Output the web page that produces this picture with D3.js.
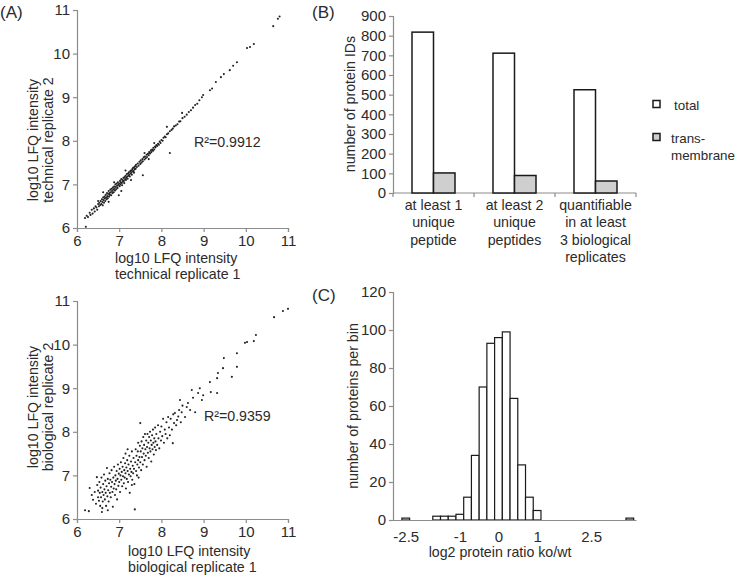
<!DOCTYPE html>
<html>
<head>
<meta charset="utf-8">
<script src="https://cdn.jsdelivr.net/npm/d3@7"></script>
<style>
  body { margin: 0; background: #fff; }
  svg { font-family: "Liberation Sans", Arial, sans-serif; }
  text { fill: #2b2b2b; }
</style>
</head>
<body>
<svg id="fig" width="740" height="577"></svg>
<script>
// panel A top: technical replicates (log10 LFQ intensity)
const techPoints = [
  [6.19,6.23],[6.21,6.03],[6.23,6.28],[6.26,6.25],[6.3,6.35],[6.32,6.3],[6.35,6.42],[6.37,6.33],[6.4,6.45],[6.42,6.38],
  [6.44,6.5],[6.46,6.47],[6.48,6.42],[6.5,6.55],[6.5,6.62],[6.52,6.5],[6.53,6.58],[6.55,6.53],[6.56,6.62],[6.58,6.55],
  [6.59,6.66],[6.6,6.6],[6.61,6.52],[6.62,6.7],[6.63,6.64],[6.64,6.58],[6.65,6.72],[6.66,6.68],[6.67,6.62],[6.68,6.76],
  [6.69,6.7],[6.7,6.66],[6.71,6.8],[6.72,6.73],[6.73,6.68],[6.74,6.78],[6.75,6.85],[6.76,6.72],[6.77,6.8],[6.78,6.76],
  [6.79,6.88],[6.8,6.82],[6.81,6.75],[6.82,6.9],[6.83,6.85],[6.84,6.8],[6.85,6.93],[6.86,6.88],[6.87,6.82],[6.88,6.95],
  [6.89,6.9],[6.9,6.86],[6.91,7.0],[6.92,6.94],[6.93,6.89],[6.94,7.02],[6.95,6.97],[6.96,6.92],[6.97,7.05],[6.98,6.99],
  [6.99,6.75],[6.62,6.82],[6.75,6.6],[6.88,7.05],[7.0,7.02],[7.01,6.96],[7.02,7.08],[7.03,7.0],[7.04,7.05],[7.05,7.12],
  [7.06,7.03],[7.07,6.98],[7.08,7.1],[7.09,7.06],[7.1,7.15],[7.11,7.08],[7.12,7.03],[7.13,7.17],[7.14,7.12],[7.15,7.2],
  [7.16,7.1],[7.17,7.15],[7.18,7.24],[7.19,7.18],[7.2,7.13],[7.21,7.25],[7.22,7.2],[7.23,7.28],[7.24,7.22],[7.25,7.18],
  [7.26,7.3],[7.27,7.25],[7.28,7.32],[7.29,7.27],[7.3,7.22],[7.31,7.35],[7.32,7.3],[7.33,7.38],[7.34,7.31],[7.35,7.27],
  [7.36,7.4],[7.37,7.35],[7.38,7.42],[7.39,7.36],[7.4,7.45],[7.42,7.4],[7.44,7.48],[7.46,7.43],[7.48,7.52],[7.05,6.85],
  [7.15,7.32],[7.28,7.1],[7.56,7.21],[7.5,7.47],[7.51,7.55],[7.53,7.5],[7.55,7.58],[7.56,7.53],[7.58,7.62],[7.6,7.57],
  [7.61,7.64],[7.63,7.6],[7.65,7.68],[7.66,7.63],[7.68,7.7],[7.7,7.67],[7.71,7.74],[7.73,7.71],[7.75,7.78],[7.76,7.74],
  [7.78,7.8],[7.8,7.77],[7.81,7.84],[7.83,7.8],[7.85,7.87],[7.86,7.85],[7.88,7.9],[7.9,7.88],[7.92,7.93],[7.94,7.91],
  [7.96,7.98],[7.98,7.95],[7.6,7.72],[7.7,7.58],[7.83,7.95],[8.0,8.02],[8.03,8.0],[8.05,8.07],[8.08,8.1],[8.1,8.08],
  [8.13,8.32],[8.13,8.15],[8.16,8.17],[8.2,7.72],[8.2,8.22],[8.24,8.25],[8.27,8.28],[8.3,8.33],[8.34,8.35],[8.38,8.38],
  [8.42,8.44],[8.45,8.45],[8.49,8.64],[8.5,8.52],[8.55,8.55],[8.6,8.6],[8.65,8.66],[8.7,8.7],[8.75,8.76],[8.8,8.82],
  [8.85,8.85],[8.9,8.93],[8.96,9.0],[8.99,9.05],[9.15,9.16],[9.2,9.2],[9.29,9.35],[9.41,9.46],[9.48,9.53],[9.62,9.62],
  [9.7,9.72],[9.79,9.8],[10.03,10.13],[10.1,10.15],[10.19,10.22],[10.65,10.63],[10.76,10.8],[10.8,10.85]
];

// panel A bottom: biological replicates
const bioPoints = [
  [6.19,6.2],[6.28,6.18],[6.3,6.71],[6.35,6.55],[6.38,6.44],[6.42,6.62],[6.45,6.35],[6.47,6.96],[6.48,6.78],[6.5,6.5],
  [6.5,6.65],[6.52,6.42],[6.53,6.85],[6.54,6.6],[6.55,6.3],[6.56,6.72],[6.57,6.5],[6.58,6.95],[6.59,6.16],[6.6,6.62],
  [6.61,6.4],[6.62,6.8],[6.63,6.55],[6.64,7.02],[6.65,6.68],[6.66,6.45],[6.67,6.88],[6.68,6.6],[6.69,6.3],[6.7,6.75],
  [6.71,7.17],[6.72,6.52],[6.73,6.2],[6.73,6.92],[6.74,6.66],[6.75,6.4],[6.76,6.82],[6.77,7.05],[6.78,6.6],[6.79,6.9],
  [6.8,6.5],[6.81,6.74],[6.82,7.12],[6.83,6.85],[6.84,6.62],[6.85,6.28],[6.86,6.95],[6.87,6.7],[6.88,7.2],[6.89,6.8],
  [6.9,6.55],[6.91,7.0],[6.92,6.88],[6.93,6.68],[6.94,7.1],[6.95,6.45],[6.96,6.92],[6.97,7.25],[6.98,6.76],[6.99,7.04],
  [6.6,6.25],[7.0,6.85],[7.01,7.15],[7.02,6.62],[7.03,7.0],[7.04,7.3],[7.05,6.9],[7.06,7.08],[7.07,6.75],[7.08,7.2],
  [7.09,6.98],[7.1,7.4],[7.11,6.82],[7.12,7.12],[7.13,6.95],[7.14,7.28],[7.15,7.05],[7.16,6.7],[7.17,7.18],[7.18,6.92],
  [7.19,7.35],[7.2,7.1],[7.21,6.85],[7.22,7.25],[7.23,7.02],[7.24,7.45],[7.25,6.6],[7.26,7.15],[7.27,6.98],[7.28,7.32],
  [7.29,7.08],[7.3,7.55],[7.31,6.9],[7.32,7.22],[7.33,7.05],[7.34,7.4],[7.35,7.15],[7.37,6.22],[7.36,6.8],[7.38,7.3],
  [7.39,7.6],[7.4,7.1],[7.41,7.45],[7.42,7.0],[7.43,7.25],[7.44,7.55],[7.45,7.35],[7.46,6.95],[7.47,7.18],[7.48,7.42],
  [7.49,7.68],[7.5,8.2],[7.15,7.5],[7.3,6.78],[7.45,7.75],[7.2,7.6],[7.5,7.3],[7.51,7.55],[7.52,7.12],[7.53,7.78],
  [7.54,7.42],[7.55,7.62],[7.56,7.25],[7.57,7.88],[7.58,7.5],[7.59,7.7],[7.6,7.35],[7.61,7.95],[7.62,7.6],[7.63,7.45],
  [7.64,7.8],[7.65,7.2],[7.66,7.65],[7.67,7.95],[7.68,7.52],[7.69,7.75],[7.7,7.4],[7.71,7.88],[7.72,7.62],[7.73,8.0],
  [7.74,7.55],[7.75,7.8],[7.76,7.32],[7.77,7.7],[7.78,7.92],[7.79,7.6],[7.8,8.05],[7.81,7.75],[7.82,7.48],[7.83,7.85],
  [7.84,7.65],[7.85,8.1],[7.86,7.78],[7.87,7.58],[7.88,7.95],[7.9,7.7],[7.92,8.15],[7.93,7.85],[7.95,7.62],[7.97,8.0],
  [7.99,7.8],[8.0,8.12],[8.02,7.9],[8.04,8.3],[8.06,7.75],[8.08,8.05],[8.1,7.95],[8.12,8.22],[8.14,7.85],[8.16,8.34],
  [8.18,8.1],[8.2,7.92],[8.22,8.3],[8.25,8.05],[8.27,7.74],[8.28,8.4],[8.3,8.2],[8.32,8.43],[8.35,8.15],[8.37,8.27],
  [8.4,8.35],[8.44,8.73],[8.42,8.5],[8.46,8.22],[8.48,8.45],[8.5,8.6],[8.56,8.34],[8.6,8.57],[8.63,8.66],[8.68,8.5],
  [8.72,8.96],[8.75,8.78],[8.8,8.45],[8.87,8.89],[8.91,9.0],[8.96,8.73],[8.99,8.84],[9.15,9.14],[9.17,8.91],[9.32,9.23],
  [9.32,8.89],[9.34,9.35],[9.46,9.46],[9.48,9.69],[9.67,9.26],[9.79,9.49],[9.79,9.8],[9.98,10.04],[10.03,10.06],[10.19,10.08],
  [10.24,10.22],[10.67,10.63],[10.88,10.77],[11.0,10.82]
];
const scatterTicks = [6, 7, 8, 9, 10, 11];

// panel B: protein IDs per filter
const filterCategories = [
  ['at least 1', 'unique', 'peptide'],
  ['at least 2', 'unique', 'peptides'],
  ['quantifiable', 'in at least', '3 biological', 'replicates']
];
const seriesNames = ['total', 'trans-membrane'];
const legendLines = [['total'], ['trans-', 'membrane']];
const totalIDs = [818, 711, 525];
const transmembraneIDs = [102, 89, 61];
const idTicks = [0, 100, 200, 300, 400, 500, 600, 700, 800, 900];

// panel C: histogram of log2 ko/wt ratios (bin centre, count)
const binCenters = [-2.4, -1.6, -1.4, -1.2, -1.0, -0.8, -0.6, -0.4, -0.2, 0, 0.2, 0.4, 0.6, 0.8, 1.0, 3.4];
const binCounts  = [1, 2, 2, 2, 3, 12, 34, 70, 93, 96, 99, 64, 29, 12, 5, 1];
const ratioTickValues = [-2.4, -1, 0, 1, 2.4];
const ratioTickLabels = ['-2.5', '-1', '0', '1', '2.5'];
const countTicks = [0, 20, 40, 60, 80, 100, 120];

const svg = d3.select('#fig');
const axisColor = '#8c8c8c';
const tickFont = 15;
const labelFont = 14.2;

function styleAxis(g) {
    g.select('.domain').attr('stroke', axisColor).attr('stroke-width', 1.2);
    g.selectAll('.tick line').attr('stroke', axisColor).attr('stroke-width', 1.2);
    g.selectAll('.tick text').attr('font-size', tickFont).attr('fill', '#2b2b2b');
}

function addText(x, y, str, size, anchor, rotate) {
    const t = svg.append('text')
        .attr('x', x)
        .attr('y', y)
        .attr('dy', '0.35em')
        .attr('font-size', size)
        .attr('text-anchor', anchor || 'start')
        .text(str);
    if (rotate) t.attr('transform', `rotate(-90,${x},${y})`);
    return t;
}

function drawScatter(points, top, bottom, yTitle, xTitle, yTitleMid, xTitleX, xTitleY, r2, r2x, r2y) {
    const x = d3.scaleLinear().domain([6, 11]).range([77, 288]);
    const y = d3.scaleLinear().domain([6, 11]).range([bottom, top]);

    svg.append('g')
        .attr('transform', `translate(0,${bottom})`)
        .call(d3.axisBottom(x).tickValues(scatterTicks).tickFormat(d3.format('d')).tickSize(4).tickPadding(3))
        .call(styleAxis);
    svg.append('g')
        .attr('transform', 'translate(77,0)')
        .call(d3.axisLeft(y).tickValues(scatterTicks).tickFormat(d3.format('d')).tickSize(4).tickPadding(3))
        .call(styleAxis);

    svg.append('g').selectAll('circle')
        .data(points)
        .enter().append('circle')
        .attr('cx', d => x(d[0]))
        .attr('cy', d => y(d[1]))
        .attr('r', 1.05)
        .attr('fill', '#222');

    addText(33, yTitleMid, yTitle[0], labelFont, 'middle', true);
    addText(48, yTitleMid, yTitle[1], labelFont, 'middle', true);
    addText(xTitleX, xTitleY, xTitle[0], labelFont, 'start');
    addText(xTitleX, xTitleY + 16, xTitle[1], labelFont, 'start');
    addText(r2x, r2y, r2, labelFont, 'start');
}

function drawBars() {
    const x0 = d3.scaleBand().domain(d3.range(filterCategories.length)).range([393, 636]);
    const x1 = d3.scaleBand().domain(seriesNames).range([19, 62]);
    const y = d3.scaleLinear().domain([0, 900]).range([193, 16]);

    svg.append('g')
        .attr('transform', 'translate(393,0)')
        .call(d3.axisLeft(y).tickValues(idTicks).tickSize(4).tickPadding(3))
        .call(styleAxis);

    const xg = svg.append('g').attr('transform', 'translate(0,193)');
    xg.append('line')
        .attr('x1', 393).attr('x2', 636)
        .attr('stroke', axisColor).attr('stroke-width', 1.2);
    xg.selectAll('.sep')
        .data(d3.range(filterCategories.length + 1))
        .enter().append('line')
        .attr('x1', i => i < filterCategories.length ? x0(i) : x0.range()[1])
        .attr('x2', i => i < filterCategories.length ? x0(i) : x0.range()[1])
        .attr('y1', 0).attr('y2', 4)
        .attr('stroke', axisColor).attr('stroke-width', 1.2);

    const series = [totalIDs, transmembraneIDs];
    const fills = ['#ffffff', '#cfcfcf'];
    filterCategories.forEach((cat, i) => {
        seriesNames.forEach((s, j) => {
            svg.append('rect')
                .attr('x', x0(i) + x1(s))
                .attr('y', y(series[j][i]))
                .attr('width', x1.bandwidth())
                .attr('height', y(0) - y(series[j][i]))
                .attr('fill', fills[j])
                .attr('stroke', '#1a1a1a')
                .attr('stroke-width', 1.5);
        });
        cat.forEach((line, k) => {
            addText(x0(i) + x0.bandwidth() / 2, 205 + k * 17.5, line, labelFont, 'middle');
        });
    });

    addText(350, 104, 'number of protein IDs', labelFont, 'middle', true);

    // legend
    legendLines.forEach((lbl, j) => {
        const ly = 104 + j * 33;
        svg.append('rect')
            .attr('x', 653).attr('y', ly - 3.5)
            .attr('width', 7).attr('height', 7)
            .attr('fill', fills[j])
            .attr('stroke', '#1a1a1a')
            .attr('stroke-width', 1.5);
        lbl.forEach((t, k) => addText(j === 0 ? 674 : 671, ly + 1 + k * 17, t, 13.4, 'start'));
    });
}

function drawHistogram() {
    const x = d3.scaleLinear().domain([-2.73, 3.56]).range([393, 636]);
    const y = d3.scaleLinear().domain([0, 120]).range([520, 292]);
    const binWidth = 0.2;

    svg.append('g')
        .attr('transform', 'translate(393,0)')
        .call(d3.axisLeft(y).tickValues(countTicks).tickSize(4).tickPadding(3))
        .call(styleAxis);

    svg.append('g').selectAll('rect')
        .data(binCenters)
        .enter().append('rect')
        .attr('x', d => x(d - binWidth / 2))
        .attr('y', (d, i) => y(binCounts[i]))
        .attr('width', x(binWidth) - x(0))
        .attr('height', (d, i) => y(0) - y(binCounts[i]))
        .attr('fill', '#fff')
        .attr('stroke', '#1a1a1a')
        .attr('stroke-width', 1.2);

    svg.append('g')
        .attr('transform', 'translate(0,520)')
        .call(d3.axisBottom(x).tickValues(ratioTickValues)
            .tickFormat((d, i) => ratioTickLabels[i]).tickSize(0).tickPadding(11))
        .call(styleAxis);

    addText(353, 406, 'number of proteins per bin', labelFont, 'middle', true);
    addText(500, 552, 'log2 protein ratio ko/wt', labelFont, 'middle');
}

drawScatter(techPoints, 10, 228,
    ['log10 LFQ intensity', 'technical replicate 2'],
    ['log10 LFQ intensity', 'technical replicate 1'],
    140, 115, 258, 'R²=0.9912', 194, 142);
drawScatter(bioPoints, 301, 519,
    ['log10 LFQ intensity', 'biological replicate 2'],
    ['log10 LFQ intensity', 'biological replicate 1'],
    407, 128, 551, 'R²=0.9359', 204, 416);
drawBars();
drawHistogram();

addText(0, 12, '(A)', 17, 'start');
addText(312, 12, '(B)', 17, 'start');
addText(312, 295, '(C)', 17, 'start');
</script>
</body>
</html>
